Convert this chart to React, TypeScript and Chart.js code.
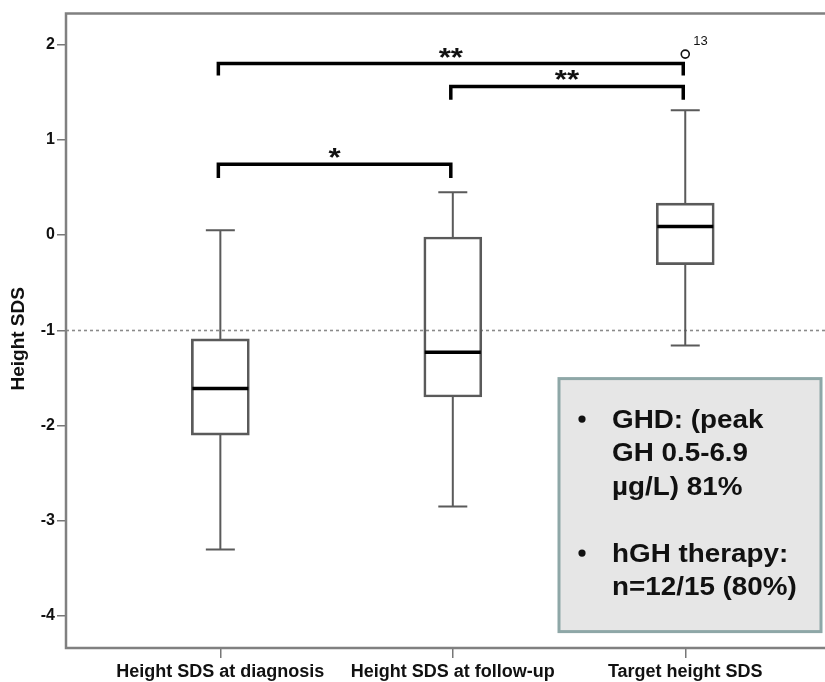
import React, { useEffect, useRef } from 'react';
import { Chart, registerables } from 'chart.js';

Chart.register(...registerables);

// ---- data ----
const categories = ['Height SDS at diagnosis', 'Height SDS at follow-up', 'Target height SDS'];
const whiskerLow = [-3.3, -2.85, -1.16];
const quartile1 = [-2.1, -1.7, -0.31];
const medians = [-1.61, -1.23, 0.09];
const quartile3 = [-1.09, -0.02, 0.335];
const whiskerHigh = [0.05, 0.45, 1.31];
const outlierCategory = [3];
const outlierValue = [1.9];
const outlierLabel = ['13'];
const yTicks = [-4, -3, -2, -1, 0, 1, 2];
const referenceLine = -1;
const bracketFrom = [1, 2, 1];
const bracketTo = [3, 3, 2];
const bracketLevel = [1.8, 1.56, 0.743];
const bracketFoot = [1.675, 1.42, 0.6];
const bracketLabel = ['**', '**', '*'];
const noteParagraphs = [
  ['GHD: (peak', 'GH 0.5-6.9', 'µg/L) 81%'],
  ['hGH therapy:', 'n=12/15 (80%)'],
];

const FONT = '"Liberation Sans", Arial, Helvetica, sans-serif';

const overlayPlugin = {
  id: 'overlay',
  beforeDatasetsDraw(chart: any) {
    const { ctx, chartArea: a, scales } = chart;
    const y = scales.y;
    ctx.save();
    ctx.strokeStyle = '#8a8a8a';
    ctx.lineWidth = 1.6;
    ctx.setLineDash([3, 3]);
    const py = Math.round(y.getPixelForValue(referenceLine)) + 0.5;
    ctx.beginPath();
    ctx.moveTo(a.left, py);
    ctx.lineTo(a.right, py);
    ctx.stroke();
    ctx.restore();
  },
  afterDatasetsDraw(chart: any) {
    const { ctx, chartArea: a, scales } = chart;
    const x = scales.x;
    const y = scales.y;
    ctx.save();
    // whiskers
    ctx.strokeStyle = '#5a5a5a';
    ctx.lineWidth = 2;
    categories.forEach((_, i) => {
      const cx = x.getPixelForValue(i + 1);
      const segs: [number, number][] = [
        [quartile3[i], whiskerHigh[i]],
        [quartile1[i], whiskerLow[i]],
      ];
      segs.forEach(([from, to]) => {
        const p1 = y.getPixelForValue(from);
        const p2 = y.getPixelForValue(to);
        ctx.beginPath();
        ctx.moveTo(cx, p1);
        ctx.lineTo(cx, p2);
        ctx.moveTo(cx - 14.5, p2);
        ctx.lineTo(cx + 14.5, p2);
        ctx.stroke();
      });
    });
    // medians
    ctx.strokeStyle = '#000';
    ctx.lineWidth = 3.5;
    categories.forEach((_, i) => {
      const cx = x.getPixelForValue(i + 1);
      const pm = y.getPixelForValue(medians[i]);
      ctx.beginPath();
      ctx.moveTo(cx - 28, pm);
      ctx.lineTo(cx + 28, pm);
      ctx.stroke();
    });
    // brackets
    ctx.lineWidth = 3.5;
    ctx.lineJoin = 'miter';
    ctx.lineCap = 'butt';
    ctx.fillStyle = '#111';
    ctx.font = 'bold 25px ' + FONT;
    ctx.textAlign = 'center';
    ctx.textBaseline = 'alphabetic';
    bracketFrom.forEach((f, i) => {
      const x1 = x.getPixelForValue(f) - 2;
      const x2 = x.getPixelForValue(bracketTo[i]) - 2;
      const yl = y.getPixelForValue(bracketLevel[i]);
      const yf = y.getPixelForValue(bracketFoot[i]);
      ctx.beginPath();
      ctx.moveTo(x1, yf);
      ctx.lineTo(x1, yl);
      ctx.lineTo(x2, yl);
      ctx.lineTo(x2, yf);
      ctx.stroke();
      ctx.save();
      ctx.translate((x1 + x2) / 2, yl + 2);
      ctx.scale(1.25, 1);
      ctx.fillText(bracketLabel[i], 0, 0);
      ctx.restore();
    });
    // outlier labels
    ctx.font = '13px ' + FONT;
    ctx.textAlign = 'left';
    ctx.textBaseline = 'middle';
    outlierCategory.forEach((c, i) => {
      const px = x.getPixelForValue(c);
      const py = y.getPixelForValue(outlierValue[i]);
      ctx.fillText(outlierLabel[i], px + 8, py - 13);
    });
    // note box
    const bx = a.left + 493;
    const by = a.top + 365;
    const bw = 262;
    const bh = 253;
    ctx.fillStyle = '#e6e6e6';
    ctx.fillRect(bx, by, bw, bh);
    ctx.strokeStyle = '#8ea7a7';
    ctx.lineWidth = 3;
    ctx.strokeRect(bx, by, bw, bh);
    ctx.fillStyle = '#111';
    ctx.font = 'bold 26px ' + FONT;
    ctx.textAlign = 'left';
    ctx.textBaseline = 'alphabetic';
    let base = by + 49;
    noteParagraphs.forEach((para) => {
      ctx.beginPath();
      ctx.arc(bx + 23, base - 8.5, 3.6, 0, Math.PI * 2);
      ctx.fill();
      para.forEach((line) => {
        ctx.save();
        ctx.translate(bx + 53, base);
        ctx.scale(1.07, 1);
        ctx.fillText(line, 0, 0);
        ctx.restore();
        base += 33.5;
      });
      base += 33.5;
    });
    ctx.restore();
  },
  afterDraw(chart: any) {
    const { ctx, chartArea: a } = chart;
    ctx.save();
    ctx.strokeStyle = '#808080';
    ctx.lineWidth = 2.5;
    ctx.beginPath();
    ctx.moveTo(a.right + 5, a.top);
    ctx.lineTo(a.left, a.top);
    ctx.lineTo(a.left, a.bottom);
    ctx.lineTo(a.right + 5, a.bottom);
    ctx.stroke();
    // y title
    ctx.translate(11, (a.top + a.bottom) / 2 + 8);
    ctx.rotate(-Math.PI / 2);
    ctx.fillStyle = '#111';
    ctx.font = 'bold 19px ' + FONT;
    ctx.textAlign = 'center';
    ctx.textBaseline = 'middle';
    ctx.fillText('Height SDS', 0, 0);
    ctx.restore();
  },
};

export default function App() {
  const ref = useRef<HTMLCanvasElement | null>(null);

  useEffect(() => {
    if (!ref.current) return;
    const chart = new Chart(ref.current, {
      type: 'bar',
      data: {
        datasets: [
          {
            type: 'bar',
            data: categories.map((_, i) => ({ x: i + 1, y: [quartile1[i], quartile3[i]] })) as any,
            backgroundColor: 'rgba(255,255,255,0)',
            borderColor: '#5a5a5a',
            borderWidth: 2,
            borderSkipped: false,
            barThickness: 58,
          } as any,
          {
            type: 'scatter',
            data: outlierCategory.map((c, i) => ({ x: c, y: outlierValue[i] })),
            pointRadius: 4,
            pointBackgroundColor: '#fff',
            pointBorderColor: '#111',
            pointBorderWidth: 1.6,
          } as any,
        ],
      },
      options: {
        responsive: false,
        animation: false,
        layout: { padding: { top: 4, left: 0, right: 0, bottom: 0 } },
        plugins: { legend: { display: false }, tooltip: { enabled: false } },
        scales: {
          x: {
            type: 'linear',
            offset: false,
            min: 0.336,
            max: 3.633,
            afterBuildTicks: (s: any) => {
              s.ticks = categories.map((_, i) => ({ value: i + 1 }));
            },
            afterFit: (s: any) => {
              s.height = 34;
              s.paddingLeft = 0;
              s.paddingRight = 0;
            },
            grid: {
              offset: false,
              drawOnChartArea: false,
              drawTicks: true,
              tickLength: 10,
              color: '#777',
              lineWidth: 1.5,
            },
            border: { display: false },
            ticks: {
              padding: 3,
              maxRotation: 0,
              autoSkip: false,
              color: '#111',
              font: { family: FONT, size: 18, weight: 'bold' },
              callback: (v: any) => categories[Math.round(v) - 1] ?? '',
            },
          },
          y: {
            type: 'linear',
            min: -4.335,
            max: 2.325,
            afterBuildTicks: (s: any) => {
              s.ticks = yTicks.map((v) => ({ value: v }));
            },
            afterFit: (s: any) => {
              s.width = 58;
              s.paddingTop = 0;
              s.paddingBottom = 0;
            },
            grid: {
              drawOnChartArea: false,
              drawTicks: true,
              tickLength: 9,
              color: '#777',
              lineWidth: 1.5,
            },
            border: { display: false },
            ticks: {
              padding: 2,
              color: '#111',
              font: { family: FONT, size: 16, weight: 'bold' },
              callback: (v: any) => String(v),
            },
          },
        },
      } as any,
      plugins: [overlayPlugin],
    });
    return () => chart.destroy();
  }, []);

  return (
    <div style={{ position: 'fixed', left: 8, top: 8, width: 817, height: 674, overflow: 'hidden' }}>
      <canvas ref={ref} width={830} height={674} style={{ display: 'block' }} />
    </div>
  );
}
